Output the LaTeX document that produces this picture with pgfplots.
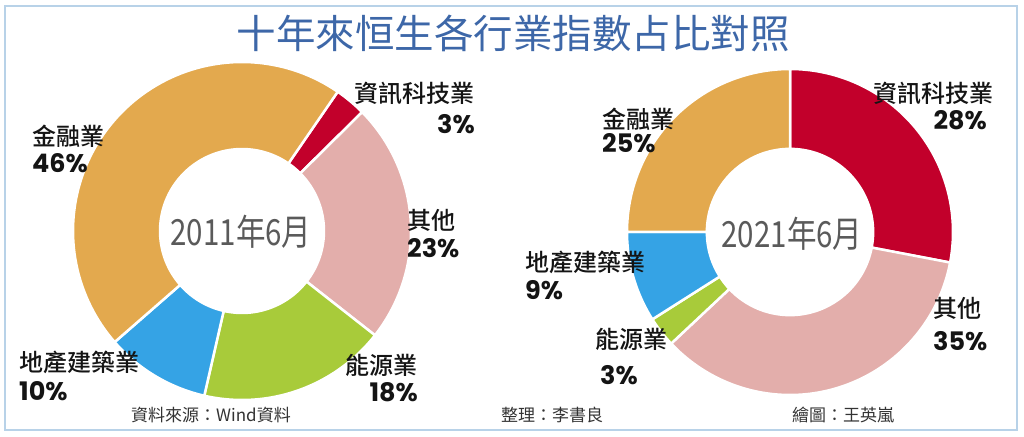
\documentclass[border=0pt]{standalone}
\usepackage{pgfplots}
\pgfplotsset{compat=1.18}
\usepackage{fontspec}
\setmainfont{Noto Sans CJK TC}
\newfontfamily\med{Noto Sans CJK TC Medium}
\newfontfamily\pct{Poppins}
\definecolor{cIT}{HTML}{C2002B}
\definecolor{cOT}{HTML}{E3AEAB}
\definecolor{cEN}{HTML}{A8CB3A}
\definecolor{cRE}{HTML}{35A3E5}
\definecolor{cFI}{HTML}{E3A94E}
\definecolor{ctitle}{HTML}{3D67A8}
\definecolor{cframe}{HTML}{B8D2E8}
\definecolor{cgray}{HTML}{5A5A5A}
% annular sector: start angle, end angle, inner ratio, colour
\newcommand\ring[4]{%
  \fill[#4, draw=white, line width=2.5pt]
    plot[domain=#1:#2, samples=90, variable=\t] (axis cs:{cos(\t)},{sin(\t)})
    -- plot[domain=#2:#1, samples=90, variable=\t] (axis cs:{#3*cos(\t)},{#3*sin(\t)})
    -- cycle;}
\begin{document}
\begin{tikzpicture}[
  lab/.style={font=\med\fontsize{24pt}{24pt}\selectfont, text=black!92, inner sep=0pt},
  pc/.style={font=\pct\bfseries\fontsize{25.5pt}{26pt}\selectfont, text=black!92, inner sep=0pt}]
\begin{scope}[x=1pt,y=1pt]
\fill[white] (0,0) rectangle (1024,436);
\useasboundingbox (0,0) rectangle (1024,436);
\draw[cframe, line width=1.8pt] (5,6) rectangle (1017,430);
\end{scope}
% 2011: shares (percent), clockwise from 55.5 deg
\pgfmathsetmacro\LA{55.5}
\pgfmathsetmacro\LB{\LA-3.6*3}
\pgfmathsetmacro\LC{\LB-3.6*23}
\pgfmathsetmacro\LD{\LC-3.6*18}
\pgfmathsetmacro\LE{\LD-3.6*10}
\pgfmathsetmacro\LF{\LE-3.6*46}
% 2021: shares (percent), clockwise from 90 deg
\pgfmathsetmacro\RA{90}
\pgfmathsetmacro\RB{\RA-3.6*28}
\pgfmathsetmacro\RC{\RB-3.6*35}
\pgfmathsetmacro\RD{\RC-3.6*3}
\pgfmathsetmacro\RE{\RD-3.6*9}
\pgfmathsetmacro\RF{\RE-3.6*25}
\begin{axis}[at={(242pt,205pt)}, anchor=center, width=338pt, height=338pt,
  scale only axis, xmin=-1, xmax=1, ymin=-1, ymax=1, hide axis, clip=false]
  \ring{\LA}{\LB}{0.485}{cIT}
  \ring{\LB}{\LC}{0.485}{cOT}
  \ring{\LC}{\LD}{0.485}{cEN}
  \ring{\LD}{\LE}{0.485}{cRE}
  \ring{\LE}{\LF}{0.485}{cFI}
\end{axis}
\begin{axis}[at={(790pt,204pt)}, anchor=center, width=326pt, height=326pt,
  scale only axis, xmin=-1, xmax=1, ymin=-1, ymax=1, hide axis, clip=false]
  \ring{\RA}{\RB}{0.51}{cIT}
  \ring{\RB}{\RC}{0.51}{cOT}
  \ring{\RC}{\RD}{0.51}{cEN}
  \ring{\RD}{\RE}{0.51}{cRE}
  \ring{\RE}{\RF}{0.51}{cFI}
\end{axis}
\begin{scope}[x=1pt,y=1pt]
% title
\node[text=ctitle, font=\fontsize{39.5pt}{40pt}\selectfont] at (513,403) {十年來恒生各行業指數占比對照};
% centre labels
\node[text=cgray, font=\fontsize{36pt}{36pt}\selectfont, xscale=0.82] at (241,204) {2011年6月};
\node[text=cgray, font=\fontsize{36pt}{36pt}\selectfont, xscale=0.82] at (792,202) {2021年6月};
% left labels
\node[lab, anchor=east] at (475,343) {資訊科技業};
\node[pc, anchor=east] at (475,312) {3\%};
\node[lab, anchor=west] at (32,300) {金融業};
\node[pc, anchor=west] at (32,273) {46\%};
\node[lab, anchor=west] at (407,216) {其他};
\node[pc, anchor=west] at (407,188) {23\%};
\node[lab, anchor=west] at (19,74) {地產建築業};
\node[pc, anchor=west] at (19,45) {10\%};
\node[lab, anchor=east] at (418,71) {能源業};
\node[pc, anchor=east] at (418,44) {18\%};
% right labels
\node[lab, anchor=east] at (994,343) {資訊科技業};
\node[pc, anchor=east] at (987,316) {28\%};
\node[lab, anchor=west] at (602,317) {金融業};
\node[pc, anchor=west] at (602,293) {25\%};
\node[lab, anchor=west] at (525,174) {地產建築業};
\node[pc, anchor=west] at (525,146) {9\%};
\node[lab, anchor=west] at (595,97) {能源業};
\node[pc, anchor=west] at (600,61) {3\%};
\node[lab, anchor=west] at (933,128) {其他};
\node[pc, anchor=west] at (933,95) {35\%};
% footer
\node[font=\fontsize{17pt}{17pt}\selectfont, text=black!80] at (211,21) {資料來源：Wind資料};
\node[font=\fontsize{17pt}{17pt}\selectfont, text=black!80] at (552,21) {整理：李書良};
\node[font=\fontsize{17pt}{17pt}\selectfont, text=black!80] at (843,21) {繪圖：王英嵐};
\end{scope}
\end{tikzpicture}
\end{document}
